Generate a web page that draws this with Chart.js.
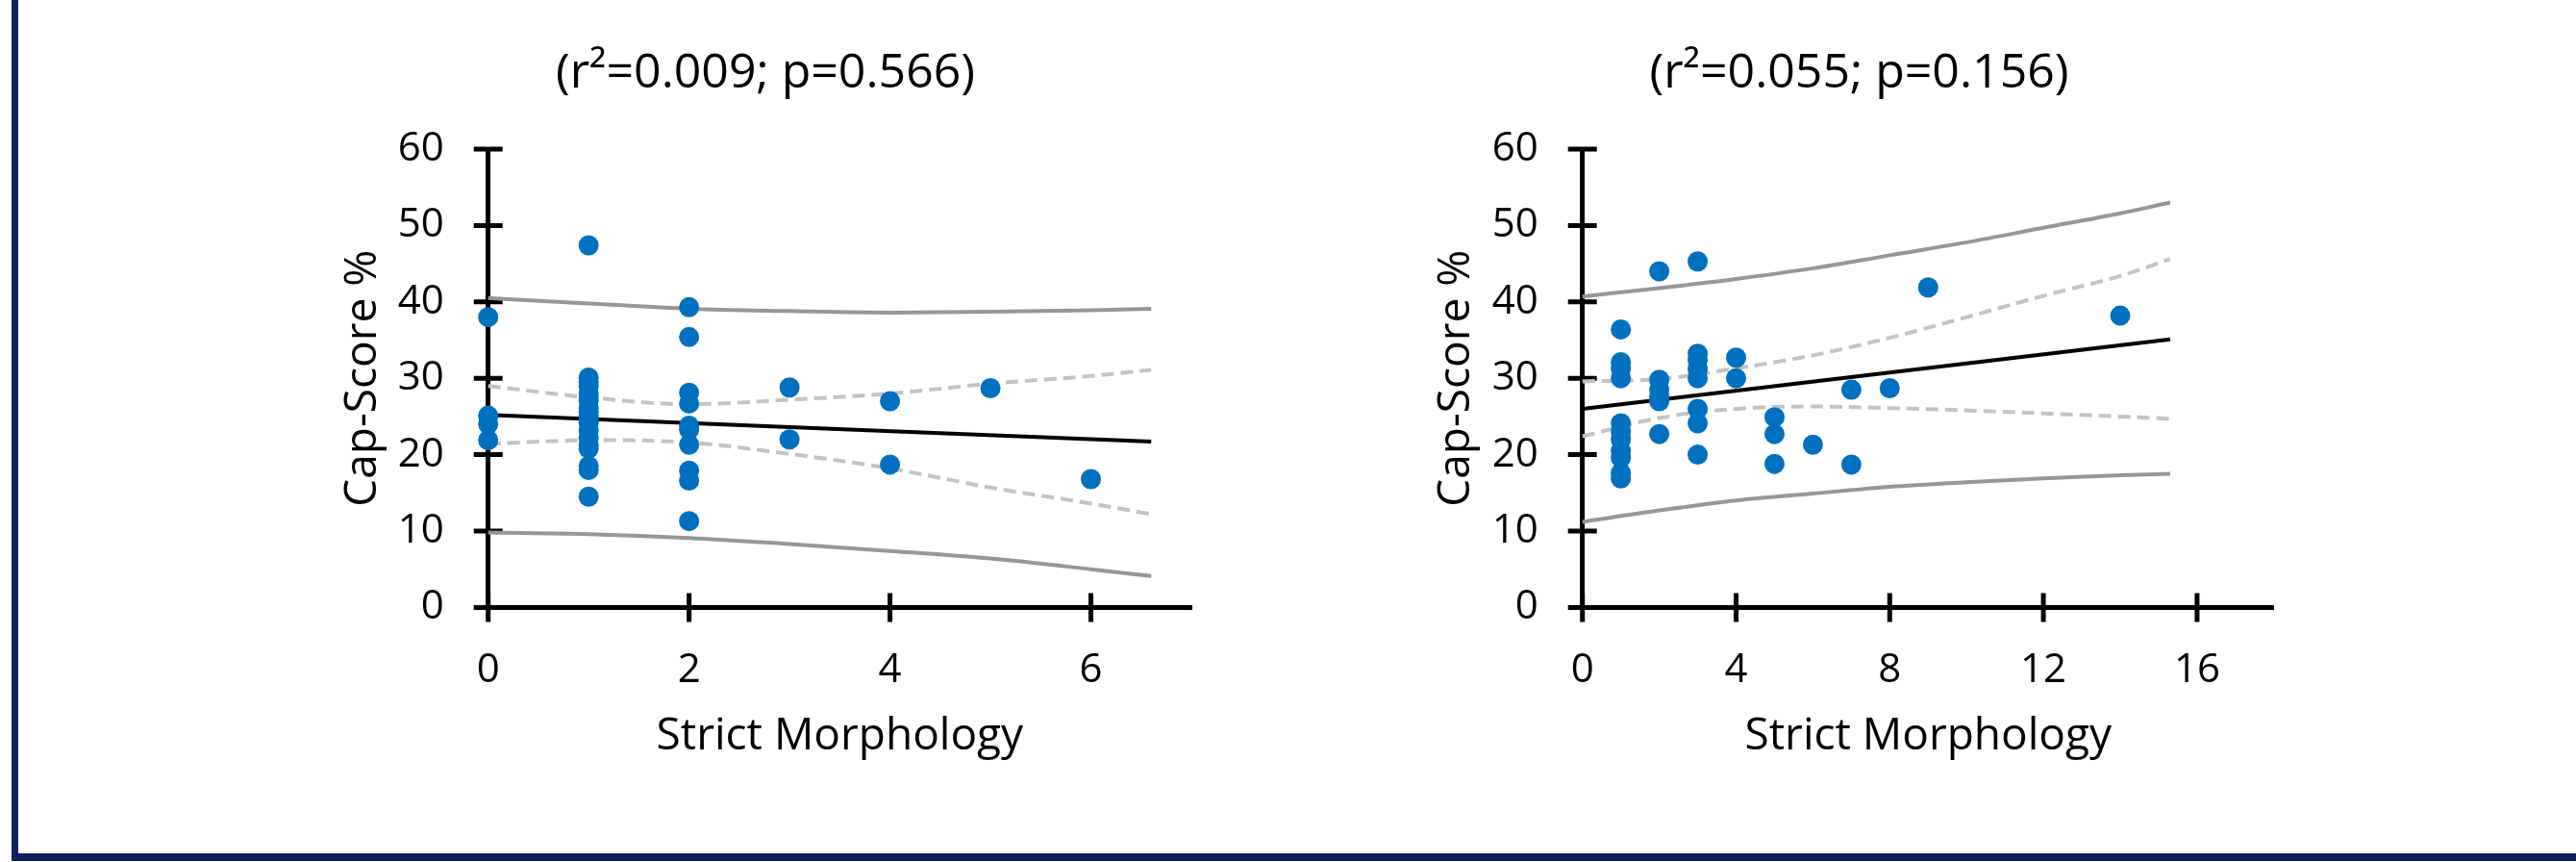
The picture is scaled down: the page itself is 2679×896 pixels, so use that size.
<!DOCTYPE html>
<html lang="en">

<head>
    <meta charset="UTF-8">
    <title>Cap-Score vs Strict Morphology</title>
    <style>
        * {
            margin: 0;
            padding: 0;
        }

        body {
            width: 2679px;
            height: 896px;
            background: #fff;
            position: relative;
            overflow: hidden;
        }

        #frame {
            position: absolute;
            left: 12px;
            top: -20px;
            right: -20px;
            bottom: 1px;
            border-left: 7px solid #0c1f5e;
            border-bottom: 8px solid #0c1f5e;
        }

        canvas {
            position: absolute;
            top: 0;
        }
    </style>
</head>

<body>
    <div id="frame"></div>
    <canvas id="leftChart" width="1340" height="896" style="left:0px"></canvas>
    <canvas id="rightChart" width="1339" height="896" style="left:1340px"></canvas>
</body>
<script src="https://cdn.jsdelivr.net/npm/chart.js@4.4.1/dist/chart.umd.min.js"></script>

<script>
    // left panel: scatter points
    const leftX = [0, 0, 0, 0,
        1, 1, 1, 1, 1, 1, 1, 1, 1, 1, 1, 1, 1, 1, 1, 1, 1, 1, 1,
        2, 2, 2, 2, 2, 2, 2, 2, 2, 2,
        3, 3, 4, 4, 5, 6];
    const leftY = [38.0, 25.1, 24.0, 21.9,
        47.4, 30.1, 29.5, 29.0, 28.0, 27.5, 27.1, 26.1, 25.6, 25.1, 24.6, 24.2, 23.2, 22.2, 21.3, 20.8, 18.5, 18.0, 14.5,
        39.3, 35.4, 28.1, 26.7, 23.8, 23.3, 21.3, 17.9, 16.6, 11.3,
        28.8, 22.0, 27.0, 18.7, 28.7, 16.8];

    // left panel: fit line and bands
    const leftFitX = [0, 6.6];
    const leftFitY = [25.2, 21.7];
    const leftBandX = [0, 1, 2, 3, 4, 5, 6, 6.6];
    const leftUpperPI = [40.5, 39.8, 39.1, 38.8, 38.6, 38.7, 38.9, 39.1];
    const leftLowerPI = [9.8, 9.6, 9.1, 8.3, 7.4, 6.4, 5.0, 4.1];
    const leftUpperCI = [29.0, 27.5, 26.6, 27.2, 28.0, 29.3, 30.3, 31.1];
    const leftLowerCI = [21.4, 21.9, 21.6, 20.1, 18.2, 15.7, 13.6, 12.2];

    // right panel: scatter points
    const rightX = [1, 1, 1, 1, 1, 1, 1, 1, 1, 1, 1,
        2, 2, 2, 2, 2, 2,
        3, 3, 3, 3, 3, 3, 3, 3,
        4, 4, 5, 5, 5, 6, 7, 7, 8, 9, 14];
    const rightY = [36.4, 32.1, 31.3, 30.0, 24.1, 23.0, 22.0, 20.5, 19.6, 17.6, 16.9,
        44.0, 29.8, 28.5, 27.6, 27.0, 22.7,
        45.3, 33.2, 32.4, 31.2, 30.0, 26.0, 24.1, 20.0,
        32.7, 30.0, 24.9, 22.7, 18.8, 21.3, 28.5, 18.7, 28.7, 41.9, 38.2];

    // right panel: fit line and bands
    const rightFitX = [0, 15.3];
    const rightFitY = [26.0, 35.1];
    const rightBandX = [0, 2, 4, 6, 8, 10, 12, 14, 15.3];
    const rightUpperPI = [40.7, 41.8, 43.0, 44.4, 46.1, 47.8, 49.7, 51.6, 53.0];
    const rightLowerPI = [11.2, 12.7, 14.0, 14.9, 15.8, 16.4, 16.9, 17.3, 17.5];
    const rightUpperCI = [29.6, 29.9, 31.3, 33.0, 35.3, 38.0, 40.8, 43.4, 45.6];
    const rightLowerCI = [22.4, 24.8, 26.0, 26.3, 26.1, 25.8, 25.4, 25.0, 24.7];

    const fontFamily = "'Open Sans', 'Noto Sans', sans-serif";
    const pointColor = '#0070c0';

    function pts(xs, ys) {
        return xs.map((x, i) => ({ x: x, y: ys[i] }));
    }

    function lineSet(xs, ys, color, width, dash) {
        return {
            type: 'line',
            data: pts(xs, ys),
            borderColor: color,
            borderWidth: width,
            borderDash: dash || [],
            pointRadius: 0,
            cubicInterpolationMode: 'monotone',
            clip: false,
            order: 2
        };
    }

    // excel style tick marks crossing the axis line
    const crossTicks = {
        id: 'crossTicks',
        beforeDatasetsDraw(chart) {
            const { ctx, scales: { x, y } } = chart;
            ctx.save();
            ctx.strokeStyle = '#000';
            ctx.lineWidth = 5;
            ctx.beginPath();
            x.ticks.forEach(t => {
                const px = x.getPixelForValue(t.value);
                ctx.moveTo(px, x.top - 15);
                ctx.lineTo(px, x.top + 15);
            });
            y.ticks.forEach(t => {
                const py = y.getPixelForValue(t.value);
                ctx.moveTo(y.right - 15, py);
                ctx.lineTo(y.right + 15, py);
            });
            ctx.stroke();
            ctx.restore();
        }
    };

    function makeChart(id, cfg) {
        return new Chart(id, {
            type: 'scatter',
            data: {
                datasets: [
                    lineSet(cfg.bandX, cfg.upperPI, '#969696', 4),
                    lineSet(cfg.bandX, cfg.lowerPI, '#969696', 4),
                    lineSet(cfg.bandX, cfg.upperCI, '#c3c3c3', 4, [13, 7]),
                    lineSet(cfg.bandX, cfg.lowerCI, '#c3c3c3', 4, [13, 7]),
                    lineSet(cfg.fitX, cfg.fitY, '#000000', 4),
                    {
                        data: pts(cfg.px, cfg.py),
                        backgroundColor: pointColor,
                        borderWidth: 0,
                        pointRadius: 10.5,
                        pointHoverRadius: 10.5,
                        clip: false,
                        order: 1
                    }
                ]
            },
            options: {
                responsive: false,
                animation: false,
                devicePixelRatio: 1,
                layout: { padding: cfg.padding },
                plugins: {
                    legend: { display: false },
                    tooltip: { enabled: false },
                    title: {
                        display: true,
                        text: cfg.title,
                        color: '#000',
                        font: { family: fontFamily, size: 50, weight: 'normal' },
                        padding: { top: 47, bottom: 48 }
                    }
                },
                scales: {
                    x: {
                        type: 'linear',
                        min: 0,
                        max: cfg.xMax,
                        afterFit: s => { s.height = 180; },
                        ticks: {
                            stepSize: cfg.xStep,
                            includeBounds: false,
                            color: '#000',
                            padding: 40,
                            maxRotation: 0,
                            font: { family: fontFamily, size: 42 }
                        },
                        grid: { display: false, drawTicks: false },
                        border: { display: true, color: '#000', width: 5 },
                        title: {
                            display: true,
                            text: 'Strict Morphology',
                            color: '#000',
                            font: { family: fontFamily, size: 46 },
                            padding: { top: 0, bottom: 18 }
                        }
                    },
                    y: {
                        type: 'linear',
                        min: 0,
                        max: 60,
                        afterFit: s => { s.width = cfg.yWidth; },
                        ticks: {
                            stepSize: 10,
                            color: '#000',
                            padding: 46,
                            font: { family: fontFamily, size: 42 }
                        },
                        grid: { display: false, drawTicks: false },
                        border: { display: true, color: '#000', width: 5 },
                        title: {
                            display: true,
                            text: 'Cap-Score %',
                            color: '#000',
                            font: { family: fontFamily, size: 46 },
                            padding: { top: cfg.yTitlePad, bottom: 0 }
                        }
                    }
                }
            },
            plugins: [crossTicks]
        });
    }

    makeChart('leftChart', {
        title: '(r\u00b2=0.009; p=0.566)',
        px: leftX, py: leftY,
        fitX: leftFitX, fitY: leftFitY,
        bandX: leftBandX,
        upperPI: leftUpperPI, lowerPI: leftLowerPI,
        upperCI: leftUpperCI, lowerCI: leftLowerCI,
        xMax: 7, xStep: 2,
        yWidth: 154.7, yTitlePad: -3,
        padding: { left: 353, right: 101, top: 0, bottom: 84.6 }
    });

    makeChart('rightChart', {
        title: '(r\u00b2=0.055; p=0.156)',
        px: rightX, py: rightY,
        fitX: rightFitX, fitY: rightFitY,
        bandX: rightBandX,
        upperPI: rightUpperPI, lowerPI: rightLowerPI,
        upperCI: rightUpperCI, lowerCI: rightLowerCI,
        xMax: 18, xStep: 4,
        yWidth: 143.5, yTitlePad: -15,
        padding: { left: 162.2, right: 314.2, top: 0, bottom: 84.6 }
    });
</script>

</html>
